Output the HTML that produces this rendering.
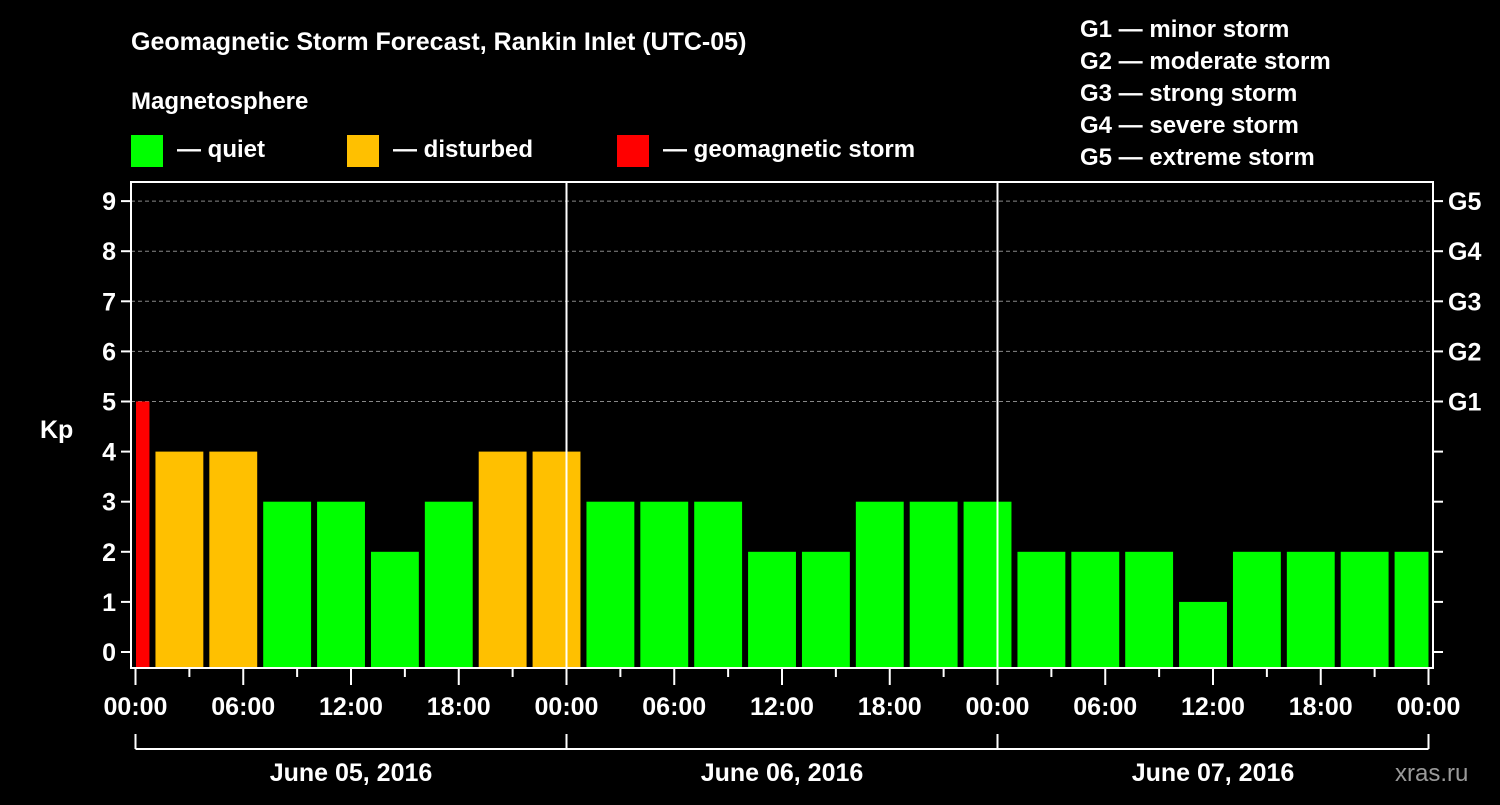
<!DOCTYPE html>
<html><head><meta charset="utf-8"><style>
body{margin:0;background:#000;width:1500px;height:800px;overflow:hidden}
text{font-family:"Liberation Sans",sans-serif;font-weight:bold;fill:#fff}
</style></head><body>
<svg id="c" width="1500" height="800">
<text x="131" y="50" font-size="25">Geomagnetic Storm Forecast, Rankin Inlet (UTC-05)</text>
<text x="131" y="109" font-size="24">Magnetosphere</text>
<g><rect x="131" y="135" width="32" height="32" fill="#00ff00"/><text x="177" y="157" font-size="24">— quiet</text></g>
<g><rect x="347" y="135" width="32" height="32" fill="#ffc000"/><text x="393" y="157" font-size="24">— disturbed</text></g>
<g><rect x="617" y="135" width="32" height="32" fill="#ff0000"/><text x="663" y="157" font-size="24">— geomagnetic storm</text></g>
<g font-size="24">
<text x="1080" y="37" font-size="24">G1 — minor storm</text>
<text x="1080" y="69" font-size="24">G2 — moderate storm</text>
<text x="1080" y="101" font-size="24">G3 — strong storm</text>
<text x="1080" y="133" font-size="24">G4 — severe storm</text>
<text x="1080" y="165" font-size="24">G5 — extreme storm</text>
</g>
<text x="40" y="438" font-size="25">Kp</text>
<g id="grid"></g><g id="bars"></g><g id="axes"></g>
<text x="1395" y="781" font-size="24" fill="#999" style="fill:#9a9a9a;font-weight:normal">xras.ru</text>
</svg>
<script>
const kpValues=[5,4,4,3,3,2,3,4,4,3,3,3,2,2,3,3,3,2,2,2,1,2,2,2,2];
const yTicks=[0,1,2,3,4,5,6,7,8,9];
const gLabels=["G1","G2","G3","G4","G5"];
const xTickLabels=["00:00","06:00","12:00","18:00","00:00","06:00","12:00","18:00","00:00","06:00","12:00","18:00","00:00"];
const dayLabels=["June 05, 2016","June 06, 2016","June 07, 2016"];
const firstIntervalStartHour=-2; // local hour of first 3h interval start
const NS="http://www.w3.org/2000/svg";
const L=131,R=1433,T=182,B=668,X0=135.5,DAY=431;
const xs=h=>X0+h*DAY/24, ys=v=>652-v*50.1;
function mk(tag,attrs,parent){const e=document.createElementNS(NS,tag);for(const k in attrs)e.setAttribute(k,attrs[k]);document.getElementById(parent).appendChild(e);return e;}
function col(v){return v>=5?"#ff0000":v>=4?"#ffc000":"#00ff00";}
// grid
for(let v=5;v<=9;v++){const e=mk("line",{x1:L,x2:R,y1:ys(v),y2:ys(v),stroke:"#888","stroke-dasharray":"4,3","stroke-width":1},"grid");
}
// bars
kpValues.forEach((v,i)=>{const h0=firstIntervalStartHour+3*i;let x1=xs(h0)+2,x2=xs(h0+3)-4;x1=Math.max(x1,L+5);x2=Math.min(x2,xs(72)-0);
const e=mk("rect",{x:x1,y:ys(v),width:Math.max(0,x2-x1),height:B-ys(v),fill:col(v)},"bars");
});
// day separators
[24,48].forEach(h=>{const e=mk("line",{x1:xs(h),x2:xs(h),y1:T,y2:B,stroke:"#fff","stroke-width":2},"axes");
});
// frame
const f=mk("rect",{x:L,y:T,width:R-L,height:B-T,fill:"none",stroke:"#fff","stroke-width":2},"axes");

// y ticks
yTicks.forEach(v=>{mk("line",{x1:L-10,x2:L,y1:ys(v),y2:ys(v),stroke:"#fff","stroke-width":2},"axes");
mk("line",{x1:R,x2:R+10,y1:ys(v),y2:ys(v),stroke:"#fff","stroke-width":2},"axes");
const t=mk("text",{x:L-15,y:ys(v)+9,"text-anchor":"end","font-size":25},"axes");t.textContent=v;
});
gLabels.forEach((g,i)=>{const t=mk("text",{x:R+15,y:ys(i+5)+9,"font-size":25},"axes");t.textContent=g;
});
// x ticks
for(let h=0;h<=72;h+=3){const long=h%6===0;mk("line",{x1:xs(h),x2:xs(h),y1:B,y2:B+(long?17:9),stroke:"#fff","stroke-width":2},"axes");}
xTickLabels.forEach((s,i)=>{const t=mk("text",{x:xs(i*6),y:715,"text-anchor":"middle","font-size":25},"axes");t.textContent=s;
});
// day bracket
mk("line",{x1:xs(0),x2:xs(72),y1:749,y2:749,stroke:"#fff","stroke-width":2},"axes");
[0,24,48,72].forEach(h=>mk("line",{x1:xs(h),x2:xs(h),y1:734,y2:749,stroke:"#fff","stroke-width":2},"axes"));
dayLabels.forEach((s,i)=>{const t=mk("text",{x:xs(i*24+12),y:781,"text-anchor":"middle","font-size":25},"axes");t.textContent=s;
});
</script>
</body></html>
